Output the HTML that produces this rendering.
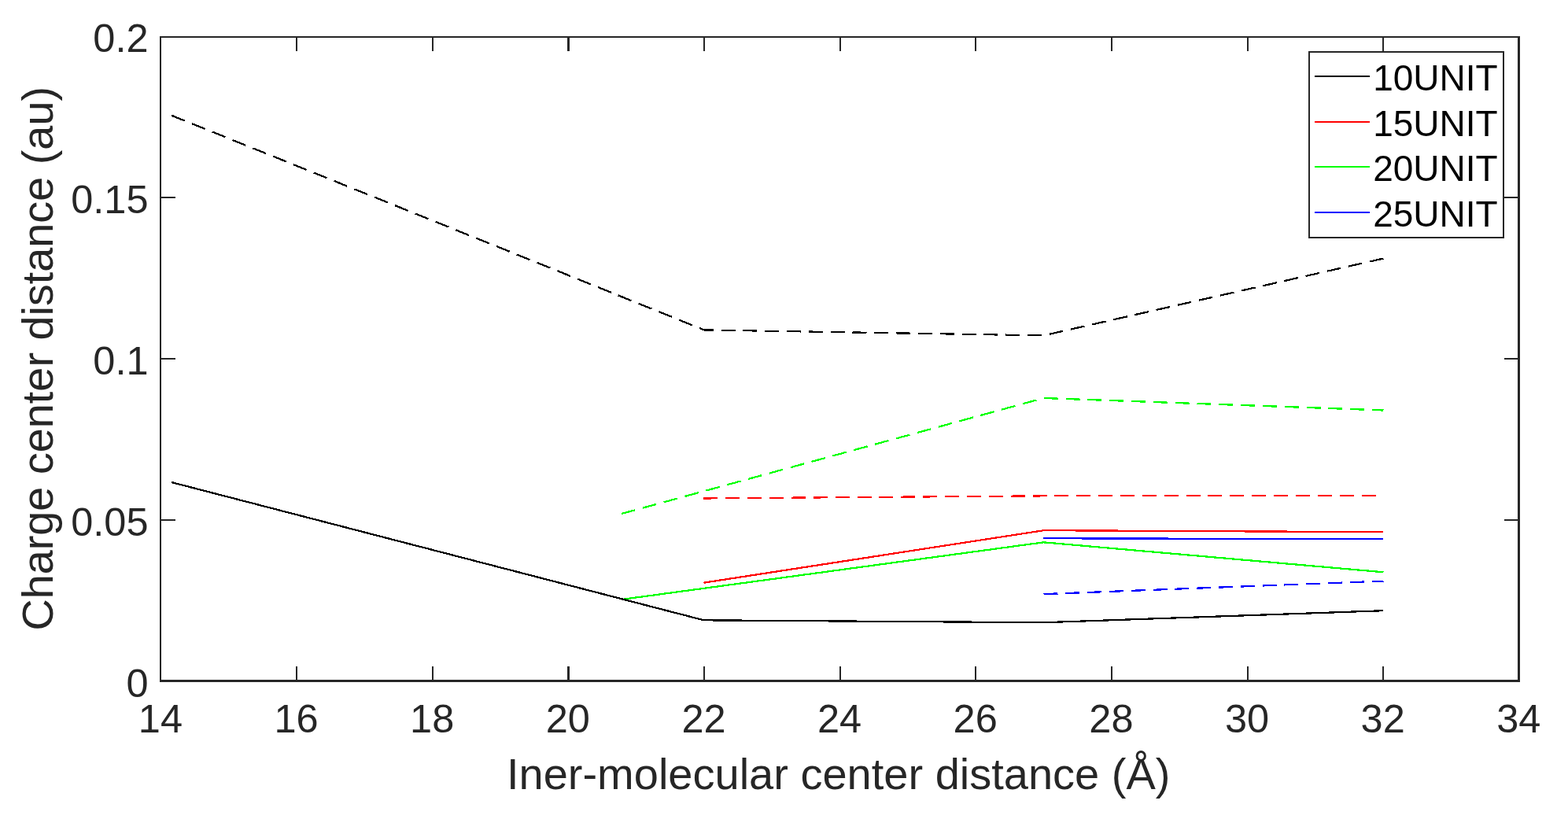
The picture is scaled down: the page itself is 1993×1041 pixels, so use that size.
<!DOCTYPE html>
<html lang="en">
<head>
<meta charset="utf-8">
<title>Charge center distance vs Iner-molecular center distance</title>
<style>
html,body{margin:0;padding:0;background:#fff;}
body{width:1993px;height:1041px;overflow:hidden;}
svg{display:block;}
text{font-family:"Liberation Sans",sans-serif;}
.tick{font-size:50.5px;fill:#262626;}
.lab{font-size:56px;fill:#262626;}
.leg{font-size:46px;fill:#000;}
.d{fill:none;stroke-width:2.25;stroke-linejoin:bevel;shape-rendering:crispEdges;}
.ds{stroke-dasharray:18 9.83;}
</style>
</head>
<body>
<svg width="1993" height="1041" viewBox="0 0 1993 1041">
<rect x="0" y="0" width="1993" height="1041" fill="#fff"/>

<g id="axes" fill="#262626">
<rect x="203" y="46" width="1729" height="2"/>
<rect x="203" y="864" width="1729" height="3"/>
<rect x="203" y="46" width="2" height="821"/>
<rect x="1929" y="46" width="3" height="821"/>
<rect x="203" y="847" width="2" height="18"/>
<rect x="203" y="47" width="2" height="18"/>
<rect x="376" y="847" width="2" height="18"/>
<rect x="376" y="47" width="2" height="18"/>
<rect x="549" y="847" width="2" height="18"/>
<rect x="549" y="47" width="2" height="18"/>
<rect x="721" y="847" width="3" height="18"/>
<rect x="721" y="47" width="3" height="18"/>
<rect x="894" y="847" width="2" height="18"/>
<rect x="894" y="47" width="2" height="18"/>
<rect x="1067" y="847" width="2" height="18"/>
<rect x="1067" y="47" width="2" height="18"/>
<rect x="1239" y="847" width="2" height="18"/>
<rect x="1239" y="47" width="2" height="18"/>
<rect x="1412" y="847" width="2" height="18"/>
<rect x="1412" y="47" width="2" height="18"/>
<rect x="1585" y="847" width="2" height="18"/>
<rect x="1585" y="47" width="2" height="18"/>
<rect x="1757" y="847" width="2" height="18"/>
<rect x="1757" y="47" width="2" height="18"/>
<rect x="1930" y="847" width="2" height="18"/>
<rect x="1930" y="47" width="2" height="18"/>
<rect x="204" y="660" width="19" height="2"/>
<rect x="1912" y="660" width="19" height="2"/>
<rect x="204" y="455" width="19" height="2"/>
<rect x="1912" y="455" width="19" height="2"/>
<rect x="204" y="250" width="19" height="2"/>
<rect x="1912" y="250" width="19" height="2"/>
</g>
<g id="series">
<polyline class="d ds" stroke="#0f0" points="790,653 1326.5,506 1758.5,521.5"/>
<polyline class="d" stroke="#0f0" points="790,762 1326.5,689.3 1758.5,727.3"/>
<polyline class="d ds" stroke="#000" points="218,146.7 895,419.4 1326.5,426.4 1758.5,328.5"/>
<polyline class="d" stroke="#000" points="218,613 894.5,788.3 1326.5,791.25 1758.5,776.2"/>
<polyline class="d ds" stroke="#f00" style="stroke-dasharray:18 9.87" points="894.5,633.45 1326.5,630.35 1757.5,630.3"/>
<polyline class="d" stroke="#f00" points="894.5,740.7 1326.5,674.2 1758.5,676.2"/>
<polyline class="d" stroke="#00f" points="1326.5,684.27 1758.5,685.27"/>
<polyline class="d ds" stroke="#00f" points="1326.5,755.1 1758.5,738.6"/>
</g>
<g id="xticks" class="tick" text-anchor="middle">
<text x="203.9" y="931">14</text>
<text x="376.5" y="931">16</text>
<text x="549.2" y="931">18</text>
<text x="721.8" y="931">20</text>
<text x="894.5" y="931">22</text>
<text x="1067.1" y="931">24</text>
<text x="1239.7" y="931">26</text>
<text x="1412.4" y="931">28</text>
<text x="1585.0" y="931">30</text>
<text x="1757.7" y="931">32</text>
<text x="1930.3" y="931">34</text>
</g>
<g id="yticks" class="tick" text-anchor="end">
<text x="188.5" y="885.5">0</text>
<text x="188.5" y="680.5">0.05</text>
<text x="188.5" y="475.5">0.1</text>
<text x="188.5" y="270.5">0.15</text>
<text x="188.5" y="65.5">0.2</text>
</g>
<text class="lab" text-anchor="middle" x="1065.7" y="1002.8">Iner-molecular center distance (Å)</text>
<text class="lab" style="font-size:55.8px" text-anchor="middle" transform="translate(67.2,455.8) rotate(-90)">Charge center distance (au)</text>
<g id="legend">
<rect x="1664" y="66" width="247" height="236" fill="#fff" stroke="#262626" stroke-width="2"/>
<rect x="1671" y="96" width="70" height="2" fill="#000"/>
<text class="leg" x="1745.2" y="115.0">10UNIT</text>
<rect x="1671" y="154" width="70" height="2" fill="#f00"/>
<text class="leg" x="1745.2" y="172.7">15UNIT</text>
<rect x="1671" y="211" width="70" height="2" fill="#0f0"/>
<text class="leg" x="1745.2" y="230.4">20UNIT</text>
<rect x="1671" y="269" width="70" height="2" fill="#00f"/>
<text class="leg" x="1745.2" y="288.1">25UNIT</text>
</g>
</svg>
</body>
</html>
